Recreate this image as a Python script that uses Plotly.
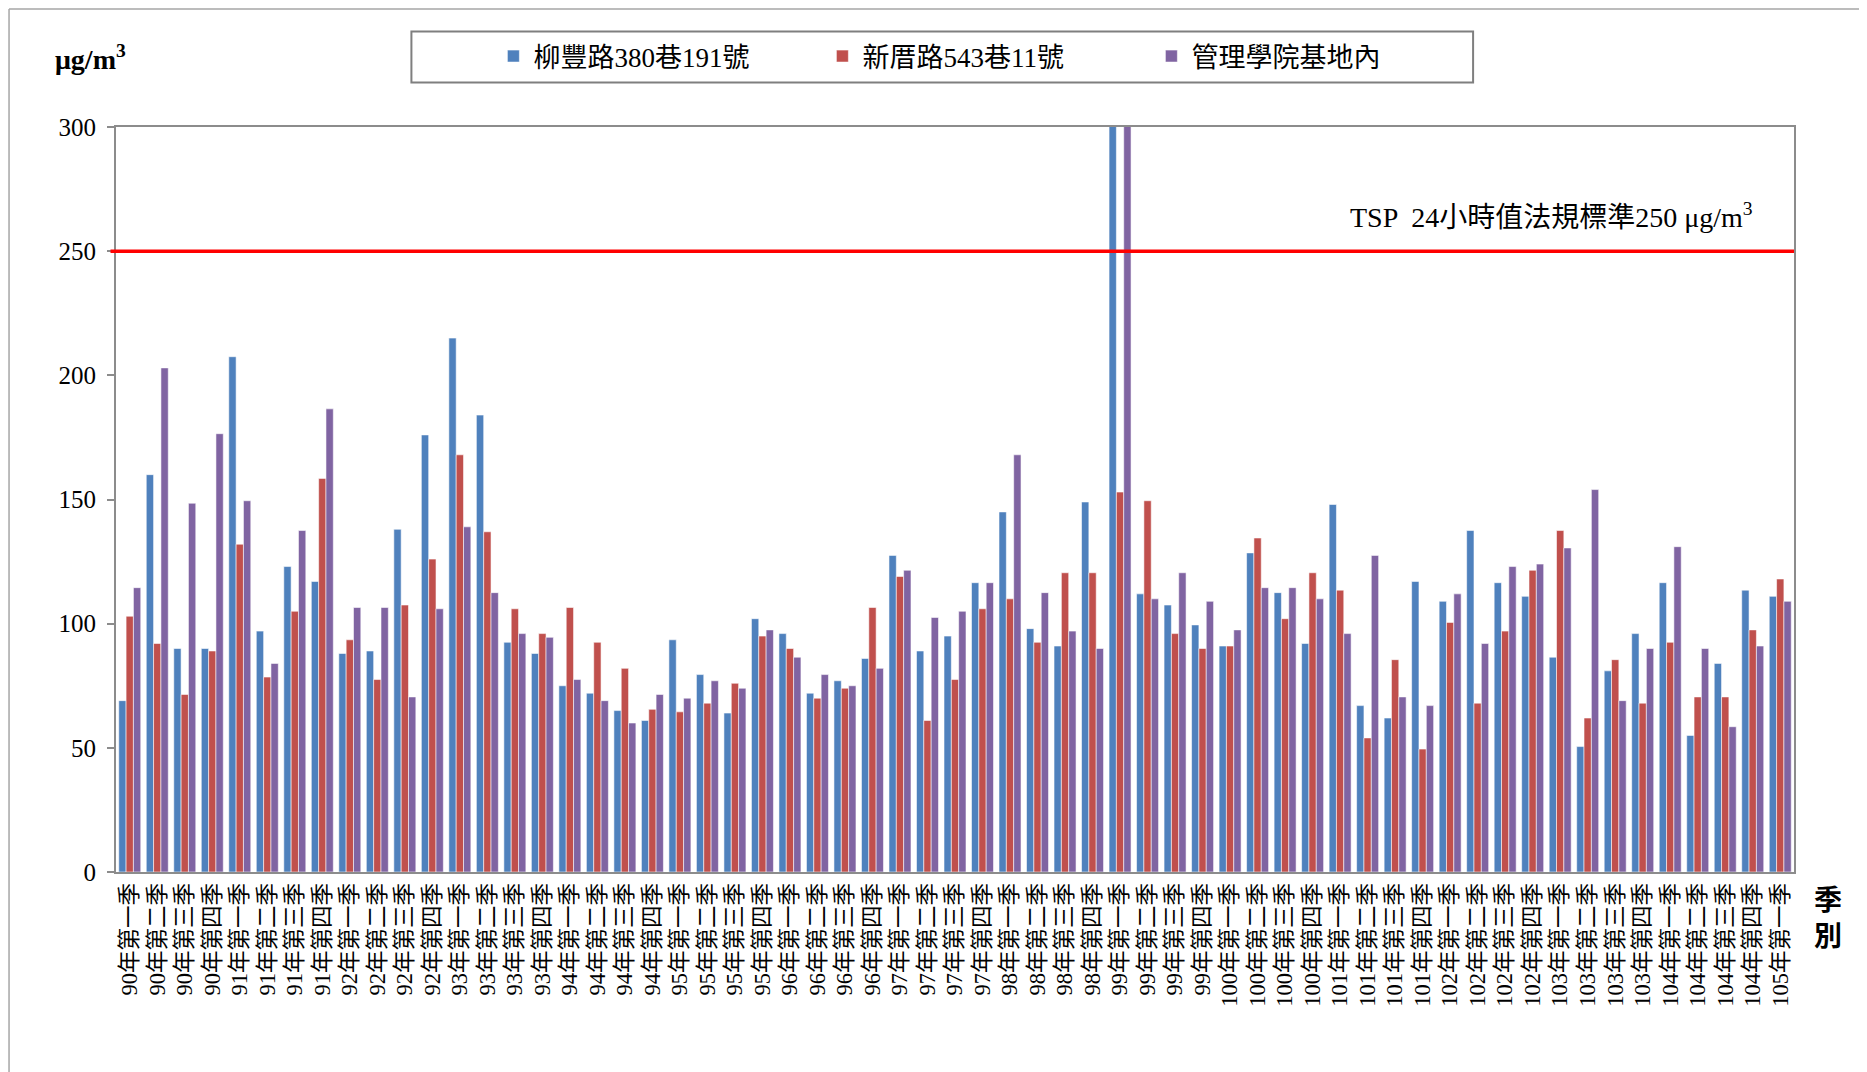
import plotly.graph_objects as go

years = list(range(90, 105))
quarters = ["一", "二", "三", "四"]
categories = [f"{y}年第{q}季" for y in years for q in quarters] + ["105年第一季"]

liufeng = [69, 160, 90, 90, 207.5, 97, 123, 117, 88, 89, 138, 176, 215, 184, 92.5, 88,
           75, 72, 65, 61, 93.5, 79.5, 64, 102, 96, 72, 77, 86, 127.5, 89, 95, 116.5,
           145, 98, 91, 149, 330, 112, 107.5, 99.5, 91, 128.5, 112.5, 92, 148, 67,
           62, 117, 109, 137.5, 116.5, 111, 86.5, 50.5, 81, 96, 116.5, 55, 84, 113.5, 111]
xinli = [103, 92, 71.5, 89, 132, 78.5, 105, 158.5, 93.5, 77.5, 107.5, 126, 168, 137, 106, 96,
         106.5, 92.5, 82, 65.5, 64.5, 68, 76, 95, 90, 70, 74, 106.5, 119, 61, 77.5, 106,
         110, 92.5, 120.5, 120.5, 153, 149.5, 96, 90, 91, 134.5, 102, 120.5, 113.5, 54,
         85.5, 49.5, 100.5, 68, 97, 121.5, 137.5, 62, 85.5, 68, 92.5, 70.5, 70.5, 97.5, 118]
guanli = [114.5, 203, 148.5, 176.5, 149.5, 84, 137.5, 186.5, 106.5, 106.5, 70.5, 106, 139, 112.5, 96, 94.5,
          77.5, 69, 60, 71.5, 70, 77, 74, 97.5, 86.5, 79.5, 75, 82, 121.5, 102.5, 105, 116.5,
          168, 112.5, 97, 90, 345, 110, 120.5, 109, 97.5, 114.5, 114.5, 110, 96, 127.5,
          70.5, 67, 112, 92, 123, 124, 130.5, 154, 69, 90, 131, 90, 58.5, 91, 109]

series_names = ["柳豐路380巷191號", "新厝路543巷11號", "管理學院基地內"]
series_values = [liufeng, xinli, guanli]
series_colors = ["#4F81BD", "#C0504D", "#8064A2"]

y_ticks = [0, 50, 100, 150, 200, 250, 300]
standard_value = 250

FONT = "Times New Roman, Liberation Serif, Noto Sans CJK TC, serif"

fig = go.Figure()
for name, vals, col in zip(series_names, series_values, series_colors):
    fig.add_trace(go.Bar(
        x=categories, y=vals, name=name,
        marker=dict(color=col, line=dict(color="rgba(255,255,255,0.7)", width=0.8)),
    ))

# page body margin offset (browser default 8px)
OFF = 8
FW, FH = 1867 - OFF, 1072 - OFF
# plot area in reference page pixels
PL, PR, PT, PB = 115.5, 1794, 127.4, 871.6
L, T = PL - OFF, PT - OFF
R, B = 1867 - PR, 1072 - PB
W = PR - PL
H = PB - PT

def px(x):
    return (x - PL) / W

def py(y):
    return (PB - y) / H

fig.update_layout(
    width=FW, height=FH,
    margin=dict(l=L, r=R, t=T, b=B, autoexpand=False),
    paper_bgcolor="white", plot_bgcolor="white",
    barmode="group", bargap=0.2, bargroupgap=0,
    font=dict(family=FONT, color="black", size=20),
    showlegend=True,
    legend=dict(
        orientation="h", x=px(493), y=py(57), xanchor="left", yanchor="middle",
        font=dict(family=FONT, size=27, color="black"),
        entrywidth=284, bgcolor="rgba(0,0,0,0)",
        itemclick=False,
    ),
    xaxis=dict(
        type="category", tickangle=-90, showgrid=False, showline=True,
        linecolor="#8C8C8C", linewidth=2, mirror=True, ticks="",
        tickmode="array", tickvals=categories, ticktext=categories,
        tickfont=dict(family=FONT, size=22.5, color="black"),
    ),
    yaxis=dict(
        range=[0, 300], tickvals=y_ticks, showgrid=False, showline=True,
        linecolor="#8C8C8C", linewidth=2, mirror=True, ticks="outside",
        ticklen=7, tickcolor="#8C8C8C", tickwidth=2, ticklabelstandoff=6,
        tickfont=dict(family=FONT, size=25, color="black"), zeroline=False,
    ),
)

# legend box
fig.add_shape(type="rect", xref="paper", yref="paper",
              x0=px(411), x1=px(1473), y0=py(83), y1=py(32),
              line=dict(color="#7F7F7F", width=2), fillcolor="rgba(0,0,0,0)", layer="below")
# outer frame
fig.add_shape(type="line", xref="paper", yref="paper",
              x0=px(8.5), x1=px(1867), y0=py(9.5), y1=py(9.5),
              line=dict(color="#A6A6A6", width=1.5))
fig.add_shape(type="line", xref="paper", yref="paper",
              x0=px(8.5), x1=px(8.5), y0=py(9.5), y1=py(1072),
              line=dict(color="#A6A6A6", width=1.5))
# standard line
fig.add_shape(type="line", xref="paper", yref="y",
              x0=px(110), x1=1, y0=standard_value, y1=standard_value,
              line=dict(color="#FF0000", width=3.5))

fig.add_annotation(text="TSP  24小時值法規標準250 μg/m<sup>3</sup>", xref="paper", yref="paper",
                   x=px(1755), y=py(216), xanchor="right", yanchor="middle", showarrow=False,
                   font=dict(family=FONT, size=28, color="black"))
fig.add_annotation(text="<b>μg/m<sup>3</sup></b>", xref="paper", yref="paper",
                   x=px(52), y=py(58), xanchor="left", yanchor="middle", showarrow=False,
                   font=dict(family=FONT, size=28, color="black"))
fig.add_annotation(text="<b>季</b><br><b>別</b>", xref="paper", yref="paper",
                   x=px(1828), y=py(918), xanchor="center", yanchor="middle", showarrow=False,
                   font=dict(family=FONT, size=28, color="black"))

fig.write_html("out.html")
